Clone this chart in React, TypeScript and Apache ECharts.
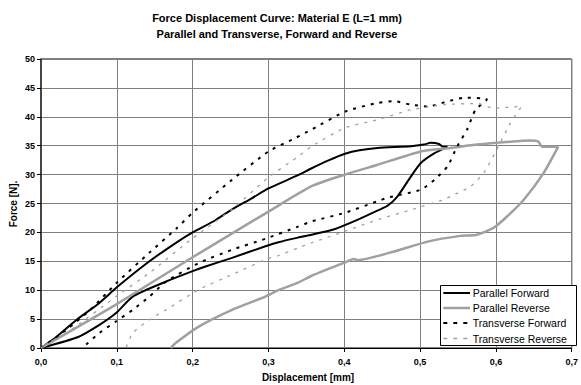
import React, { useEffect, useRef } from "react";
import * as echarts from "echarts";

const titleLines = [
  "Force Displacement Curve: Material E (L=1 mm)",
  "Parallel and Transverse, Forward and Reverse",
];
const xTitle = "Displacement [mm]";
const yTitle = "Force [N].";
const seriesNames = [
  "Parallel Forward",
  "Parallel Reverse",
  "Transverse Forward",
  "Transverse Reverse",
];

const parallelForward: number[][] = [
  [0, 0], [0.021, 2.0], [0.047, 4.9], [0.077, 7.8], [0.1, 10.5], [0.143, 15.0],
  [0.178, 18.2], [0.2, 20.0], [0.23, 22.1], [0.252, 24.0], [0.278, 25.9], [0.3, 27.6],
  [0.339, 29.9], [0.357, 31.1], [0.38, 32.5], [0.401, 33.6], [0.42, 34.2], [0.444, 34.6],
  [0.488, 34.9], [0.505, 35.2], [0.514, 35.5], [0.525, 35.3], [0.53, 34.8], [0.536, 34.8],
  [0.519, 33.7], [0.501, 32.0], [0.488, 29.7], [0.47, 26.2], [0.457, 24.6], [0.446, 23.9],
  [0.418, 22.2], [0.388, 20.6], [0.357, 19.6], [0.339, 19.1], [0.313, 18.3], [0.296, 17.6],
  [0.252, 15.6], [0.217, 14.1], [0.2, 13.3], [0.165, 11.5], [0.121, 8.9], [0.099, 6.05],
  [0.077, 4.0], [0.049, 1.9], [0, 0],
];

const parallelReverse: number[][] = [
  [0, 0], [0.1, 7.6], [0.2, 15.7], [0.3, 23.6], [0.357, 28.0], [0.401, 30.0],
  [0.444, 31.7], [0.501, 34.0], [0.54, 34.6], [0.575, 35.2], [0.619, 35.7], [0.645, 35.9],
  [0.656, 35.7], [0.661, 34.8], [0.682, 34.8],
  [0.663, 30.3], [0.637, 25.7], [0.615, 22.8], [0.597, 20.8], [0.575, 19.6], [0.553, 19.4],
  [0.51, 18.4], [0.466, 16.7], [0.418, 15.2], [0.412, 15.4], [0.401, 14.8], [0.357, 12.5],
  [0.339, 11.3], [0.313, 10.0], [0.296, 8.9], [0.252, 6.6], [0.208, 3.7], [0.178, 0.9],
  [0.171, 0],
];

const transverseForward: number[][] = [
  [0, 0], [0.034, 3.2], [0.065, 6.6], [0.1, 11.3], [0.143, 16.5], [0.178, 20.6],
  [0.2, 23.4], [0.252, 29.1], [0.3, 34.0], [0.335, 36.3], [0.357, 37.8], [0.401, 40.9],
  [0.444, 42.4], [0.466, 42.7], [0.488, 42.1], [0.51, 41.8], [0.54, 42.8], [0.558, 43.3],
  [0.588, 43.0],
  [0.573, 41.2], [0.562, 37.8], [0.549, 34.9], [0.536, 31.4], [0.519, 29.1], [0.501, 27.4],
  [0.457, 26.0], [0.444, 25.4], [0.401, 23.4], [0.357, 21.9], [0.339, 21.0], [0.296, 18.9],
  [0.252, 17.0], [0.208, 14.7], [0.165, 11.5], [0.143, 8.9], [0.121, 6.6], [0.099, 4.6],
  [0.077, 2.6], [0.058, 0.4],
];

const transverseReverse: number[][] = [
  [0, 0], [0.034, 2.6], [0.1, 9.0], [0.143, 13.0], [0.2, 19.0], [0.252, 24.0],
  [0.3, 29.5], [0.339, 33.1], [0.357, 34.9], [0.401, 38.1], [0.444, 39.5], [0.488, 41.2],
  [0.532, 42.1], [0.575, 42.3], [0.597, 41.5], [0.634, 41.8],
  [0.619, 38.9], [0.601, 34.3], [0.584, 30.3], [0.567, 28.0], [0.54, 26.2], [0.532, 25.7],
  [0.488, 23.9], [0.444, 22.2], [0.401, 20.2], [0.357, 18.2], [0.339, 17.3], [0.313, 16.0],
  [0.296, 15.3], [0.252, 12.7], [0.208, 10.1], [0.165, 6.6], [0.143, 4.9], [0.121, 2.6],
  [0.112, 0],
];

const FONT = "'Liberation Sans', Arial, sans-serif";

const lineDefs = [
  { color: "#000", width: 2, dash: null as number[] | null },
  { color: "#a0a0a0", width: 2.5, dash: null as number[] | null },
  { color: "#000", width: 2, dash: [4, 6] },
  { color: "#a0a0a0", width: 1.3, dash: [4, 6] },
];

export default function App() {
  const ref = useRef<HTMLDivElement>(null);
  useEffect(() => {
    if (!ref.current) return;
    const chart = echarts.init(ref.current, null, { renderer: "svg" });
    const datasets = [parallelForward, parallelReverse, transverseForward, transverseReverse];
    const series = datasets.map((data, i) => ({
      name: seriesNames[i],
      type: "line",
      data,
      showSymbol: false,
      symbol: "none",
      smooth: 0.2,
      lineStyle: {
        color: lineDefs[i].color,
        width: lineDefs[i].width,
        type: lineDefs[i].dash ? [3, 6] : "solid",
      },
      itemStyle: { color: lineDefs[i].color },
      z: 3,
    }));

    const legendX = 440;
    const legendY = 285;
    const rowY = [293, 308, 323, 338.5];
    const legendGraphics: any[] = [
      {
        type: "rect",
        shape: { x: legendX + 0.5, y: legendY + 0.5, width: 136, height: 60 },
        style: { fill: "#fff", stroke: "#000", lineWidth: 1 },
        z: 100,
      },
    ];
    seriesNames.forEach((name, i) => {
      legendGraphics.push({
        type: "line",
        shape: { x1: 443.3, y1: rowY[i], x2: 470, y2: rowY[i] },
        style: {
          stroke: lineDefs[i].color,
          lineWidth: lineDefs[i].width,
          lineDash: lineDefs[i].dash || undefined,
        },
        z: 101,
      });
      legendGraphics.push({
        type: "text",
        x: 472.7,
        y: rowY[i],
        style: {
          text: name,
          font: `10.5px ${FONT}`,
          fill: "#000",
          textAlign: "left",
          textVerticalAlign: "middle",
        },
        z: 101,
      });
    });

    chart.setOption({
      animation: false,
      backgroundColor: "#fff",
      textStyle: { fontFamily: FONT },
      grid: {
        left: 41, right: 6, top: 59, bottom: 37,
        show: true, borderColor: "#000", borderWidth: 1, backgroundColor: "transparent",
      },
      xAxis: {
        type: "value", min: 0, max: 0.7, interval: 0.1,
        axisLine: { show: true, lineStyle: { color: "#000", width: 1 } },
        axisTick: { show: true, length: 4, lineStyle: { color: "#000" } },
        axisLabel: {
          margin: 9, fontSize: 9, fontWeight: "bold", color: "#000", fontFamily: FONT,
          formatter: (v: number) => v.toFixed(1).replace(".", ","),
        },
        splitLine: { show: true, lineStyle: { color: "#808080", width: 1 } },
      },
      yAxis: {
        type: "value", min: 0, max: 50, interval: 5,
        axisLine: { show: true, lineStyle: { color: "#333", width: 1.5 } },
        axisTick: { show: true, length: 4, lineStyle: { color: "#000" } },
        axisLabel: {
          margin: 6, fontSize: 9, fontWeight: "bold", color: "#000", fontFamily: FONT,
        },
        splitLine: { show: true, lineStyle: { color: "#808080", width: 1 } },
      },
      legend: { show: false },
      graphic: [
        {
          type: "text", x: 277, y: 18,
          style: { text: titleLines[0], font: `bold 11px ${FONT}`, fill: "#000", textAlign: "center", textVerticalAlign: "middle" },
        },
        {
          type: "text", x: 277, y: 34,
          style: { text: titleLines[1], font: `bold 11px ${FONT}`, fill: "#000", textAlign: "center", textVerticalAlign: "middle" },
        },
        {
          type: "text", x: 308, y: 377,
          style: { text: xTitle, font: `bold 10px ${FONT}`, fill: "#000", textAlign: "center", textVerticalAlign: "middle" },
        },
        {
          type: "text", x: 13, y: 204, rotation: Math.PI / 2,
          style: { text: yTitle, font: `bold 10px ${FONT}`, fill: "#000", textAlign: "center", textVerticalAlign: "middle" },
        },
        ...legendGraphics,
      ],
      series,
    });
    return () => chart.dispose();
  }, []);
  return (
    <div
      ref={ref}
      style={{ position: "absolute", left: 0, top: 0, width: 581, height: 385 }}
    />
  );
}
